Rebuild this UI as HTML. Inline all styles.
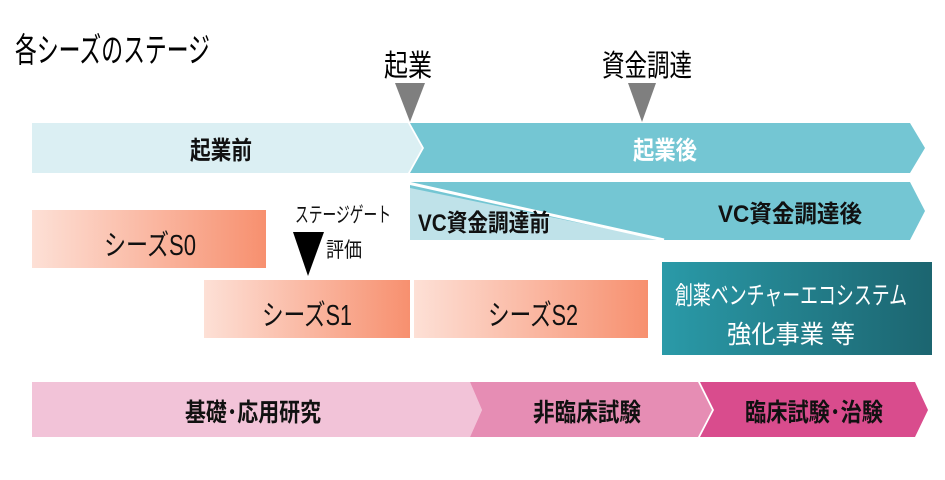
<!DOCTYPE html>
<html><head><meta charset="utf-8"><style>
html,body{margin:0;padding:0;background:#fff;width:945px;height:480px;overflow:hidden}
text{font-family:"Liberation Sans","Noto Sans CJK JP",sans-serif}
</style></head><body>
<svg width="945" height="480" viewBox="0 0 945 480" xmlns="http://www.w3.org/2000/svg">
<defs>
<linearGradient id="sal" x1="0" x2="1" y1="0" y2="0"><stop offset="0" stop-color="#fde0d6"/><stop offset="1" stop-color="#f7906f"/></linearGradient>
<linearGradient id="teal" x1="0" x2="1" y1="0" y2="0"><stop offset="0" stop-color="#2a9aa8"/><stop offset="1" stop-color="#1c6570"/></linearGradient>
</defs>
<text x="15" y="62" font-size="34" textLength="195" lengthAdjust="spacingAndGlyphs">各シーズのステージ</text>
<text x="384" y="76" font-size="30" textLength="48" lengthAdjust="spacingAndGlyphs">起業</text>
<text x="602" y="76" font-size="30" textLength="90" lengthAdjust="spacingAndGlyphs">資金調達</text>
<polygon points="395,83 425,83 410,122" fill="#7f7f7f"/>
<polygon points="628,83 656,83 642,122" fill="#7f7f7f"/>
<polygon points="32,123 408,123 422,148 408,173 32,173" fill="#dbeff3"/>
<polygon points="410,123 910,123 925,148 910,173 410,173 424,148" fill="#74c6d3"/>
<text x="190" y="159" font-size="25" font-weight="bold" fill="#111" textLength="62" lengthAdjust="spacingAndGlyphs">起業前</text>
<text x="633" y="159" font-size="25" font-weight="bold" fill="#fff" textLength="64" lengthAdjust="spacingAndGlyphs">起業後</text>
<polygon points="410,182 910,182 925,211 910,240 410,240" fill="#74c6d3"/>
<polygon points="410,188 662,240 410,240" fill="#bfe2e9"/>
<line x1="408" y1="183" x2="664" y2="240" stroke="#fff" stroke-width="3"/>
<text x="418" y="231" font-size="24" font-weight="bold" fill="#111" textLength="132" lengthAdjust="spacingAndGlyphs">VC資金調達前</text>
<text x="718" y="222" font-size="24" font-weight="bold" fill="#111" textLength="144" lengthAdjust="spacingAndGlyphs">VC資金調達後</text>
<rect x="32" y="210" width="234" height="58" fill="url(#sal)"/>
<text x="104" y="255" font-size="29" fill="#111" textLength="92" lengthAdjust="spacingAndGlyphs">シーズS0</text>
<text x="295" y="222" font-size="21" fill="#111" textLength="96" lengthAdjust="spacingAndGlyphs">ステージゲート</text>
<text x="326" y="257" font-size="21" fill="#111" textLength="36" lengthAdjust="spacingAndGlyphs">評価</text>
<polygon points="293,232 324,232 308,276" fill="#000"/>
<rect x="204" y="280" width="206" height="58" fill="url(#sal)"/>
<text x="262" y="325" font-size="29" fill="#111" textLength="90" lengthAdjust="spacingAndGlyphs">シーズS1</text>
<rect x="414" y="280" width="234" height="58" fill="url(#sal)"/>
<text x="488" y="325" font-size="29" fill="#111" textLength="90" lengthAdjust="spacingAndGlyphs">シーズS2</text>
<rect x="662" y="262" width="270" height="93" fill="url(#teal)"/>
<text x="675" y="304" font-size="25" fill="#fff" textLength="232" lengthAdjust="spacingAndGlyphs">創薬ベンチャーエコシステム</text>
<text x="727" y="343" font-size="25" fill="#fff" textLength="128" lengthAdjust="spacingAndGlyphs">強化事業 等</text>
<polygon points="32,382 470,382 482,410 470,437 32,437" fill="#f2c3d8"/>
<polygon points="470,382 698,382 712,410 698,437 470,437 482,410" fill="#e68db4"/>
<polygon points="700,382 915,382 928,410 915,437 700,437 714,410" fill="#d94c8d"/>
<text x="185" y="421" font-size="25" font-weight="bold" fill="#111" textLength="136" lengthAdjust="spacingAndGlyphs">基礎･応用研究</text>
<text x="533" y="421" font-size="25" font-weight="bold" fill="#111" textLength="108" lengthAdjust="spacingAndGlyphs">非臨床試験</text>
<text x="745" y="421" font-size="25" font-weight="bold" fill="#111" textLength="138" lengthAdjust="spacingAndGlyphs">臨床試験･治験</text>
</svg>
</body></html>
